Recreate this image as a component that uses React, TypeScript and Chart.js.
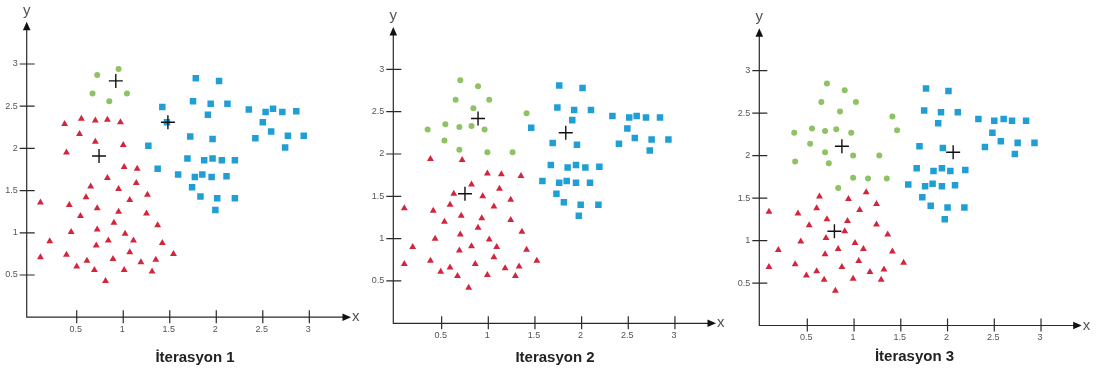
import React, { useEffect, useRef } from "react";
import { Chart, registerables } from "chart.js";

Chart.register(...registerables);

type Pt = [number, number];

// ---------- data ----------
const tickValues: number[] = [0.5, 1, 1.5, 2, 2.5, 3];
const tickLabels: string[] = ["0.5", "1", "1.5", "2", "2.5", "3"];
const panelTitles: string[] = ["İterasyon 1", "Iterasyon 2", "İterasyon 3"];

// Iteration 1
const green1: Pt[] = [[0.72, 2.87], [0.95, 2.94], [0.67, 2.65], [1.04, 2.65], [0.85, 2.56]];
const red1: Pt[] = [
  [0.37, 2.29], [0.55, 2.35], [0.70, 2.33], [0.83, 2.34], [0.97, 2.31],
  [0.53, 2.17], [0.70, 2.08], [1.00, 2.04], [0.39, 1.95],
  [1.01, 1.78], [1.15, 1.76], [0.83, 1.65], [0.65, 1.55], [1.14, 1.59], [0.95, 1.52], [1.26, 1.45],
  [0.11, 1.36], [0.42, 1.33], [0.60, 1.42], [0.72, 1.29], [1.07, 1.39],
  [0.54, 1.20], [0.95, 1.25], [1.25, 1.23], [0.90, 1.12], [1.37, 1.09],
  [0.44, 1.01], [0.72, 1.04], [1.02, 0.99], [0.21, 0.90], [0.84, 0.91], [1.11, 0.91], [0.71, 0.85], [1.42, 0.88],
  [1.07, 0.77], [0.11, 0.71], [0.39, 0.74], [0.61, 0.67], [0.89, 0.69], [1.35, 0.68], [1.54, 0.75],
  [0.50, 0.60], [0.69, 0.56], [1.01, 0.56], [1.19, 0.65], [1.31, 0.54], [0.81, 0.43],
];
const blue1: Pt[] = [
  [1.78, 2.83], [2.03, 2.80], [1.42, 2.49], [1.75, 2.56], [1.94, 2.53], [2.12, 2.53], [1.91, 2.40],
  [2.35, 2.46], [2.53, 2.43], [2.61, 2.47], [2.71, 2.43], [2.86, 2.44], [2.50, 2.31], [2.59, 2.20],
  [2.42, 2.12], [2.77, 2.15], [2.94, 2.15], [2.74, 2.01],
  [1.72, 2.14], [1.96, 2.11], [1.27, 2.03], [1.47, 2.31],
  [1.69, 1.88], [1.87, 1.86], [1.96, 1.88], [2.06, 1.86], [2.20, 1.86],
  [1.37, 1.76], [1.59, 1.69], [1.77, 1.66], [1.85, 1.69], [1.95, 1.66], [2.11, 1.67],
  [1.74, 1.54], [1.83, 1.43], [2.01, 1.41], [2.20, 1.41], [1.99, 1.27],
];
const centers1: Pt[] = [[0.92, 2.80], [0.74, 1.91], [1.48, 2.31]];

// Iteration 2
const green2: Pt[] = [
  [0.70, 2.87], [0.89, 2.80], [0.65, 2.64], [1.01, 2.64], [0.84, 2.54], [1.41, 2.48], [0.54, 2.35],
  [0.35, 2.29], [0.69, 2.32], [0.82, 2.33], [0.96, 2.29], [0.53, 2.16], [0.69, 2.05], [0.99, 2.02], [1.26, 2.02],
];
const red2: Pt[] = [
  [0.38, 1.94], [0.72, 1.93], [0.99, 1.77], [1.14, 1.76], [1.35, 1.74], [0.82, 1.64], [0.63, 1.53], [0.94, 1.50], [1.12, 1.59], [1.24, 1.46],
  [0.10, 1.36], [0.41, 1.33], [0.59, 1.40], [1.06, 1.38], [0.71, 1.27], [0.93, 1.24], [0.53, 1.20], [1.24, 1.22], [0.89, 1.13], [1.36, 1.08],
  [0.43, 1.00], [0.70, 1.05], [1.01, 0.99], [0.19, 0.90], [0.82, 0.91], [1.09, 0.90], [0.69, 0.86], [1.41, 0.87], [1.06, 0.78], [0.10, 0.70],
  [0.38, 0.74], [0.59, 0.66], [0.86, 0.70], [1.33, 0.67], [1.52, 0.74], [0.49, 0.61], [0.67, 0.56], [0.99, 0.57], [1.18, 0.65], [1.29, 0.56], [0.79, 0.42],
];
const blue2: Pt[] = [
  [1.76, 2.81], [2.01, 2.78], [1.74, 2.55], [1.92, 2.52], [2.10, 2.52], [1.90, 2.40], [1.46, 2.31],
  [2.33, 2.45], [2.51, 2.43], [2.59, 2.45], [2.69, 2.43], [2.84, 2.43], [2.49, 2.30], [2.57, 2.19],
  [2.40, 2.12], [2.75, 2.17], [2.93, 2.17], [2.73, 2.04],
  [1.69, 2.13], [1.95, 2.11], [1.67, 1.87], [1.85, 1.84], [1.94, 1.87], [2.04, 1.84], [2.19, 1.85],
  [1.58, 1.68], [1.76, 1.66], [1.84, 1.68], [1.94, 1.66], [2.09, 1.66], [1.73, 1.53], [1.81, 1.43], [1.99, 1.40], [2.18, 1.40], [1.97, 1.27],
];
const centers2: Pt[] = [[0.89, 2.42], [0.75, 1.53], [1.83, 2.25]];

// Iteration 3
const green3: Pt[] = [
  [0.71, 2.85], [0.90, 2.77], [0.65, 2.63], [1.02, 2.63], [0.85, 2.52], [1.41, 2.46], [0.55, 2.32], [0.36, 2.27],
  [0.69, 2.29], [0.81, 2.31], [0.97, 2.27], [1.46, 2.30], [0.53, 2.14], [0.69, 2.04], [0.99, 2.00], [1.27, 2.00],
  [0.37, 1.93], [0.73, 1.91], [0.99, 1.74], [1.15, 1.73], [1.35, 1.73], [0.83, 1.62],
];
const red3: Pt[] = [
  [0.63, 1.52], [0.94, 1.49], [1.13, 1.57], [1.24, 1.43], [0.09, 1.34], [0.40, 1.32], [0.60, 1.38], [1.06, 1.36], [0.71, 1.25], [0.93, 1.23],
  [0.52, 1.18], [1.24, 1.19], [0.90, 1.11], [1.36, 1.07], [0.43, 0.99], [0.70, 1.03], [1.01, 0.97], [0.19, 0.89], [0.83, 0.90], [1.10, 0.90],
  [0.69, 0.84], [1.41, 0.87], [1.05, 0.76], [0.09, 0.69], [0.37, 0.72], [0.60, 0.64], [0.87, 0.69], [1.32, 0.66], [1.53, 0.74], [0.49, 0.59],
  [0.68, 0.54], [0.99, 0.55], [1.17, 0.63], [1.29, 0.54], [0.80, 0.41],
];
const blue3: Pt[] = [
  [1.77, 2.79], [2.01, 2.76], [1.75, 2.53], [1.93, 2.51], [2.11, 2.51], [1.90, 2.38],
  [2.33, 2.43], [2.50, 2.41], [2.60, 2.43], [2.69, 2.41], [2.84, 2.41], [2.48, 2.27], [2.57, 2.17],
  [2.40, 2.10], [2.75, 2.15], [2.93, 2.15], [2.72, 2.02],
  [1.70, 2.11], [1.95, 2.09], [1.67, 1.85], [1.85, 1.82], [1.94, 1.85], [2.03, 1.82], [2.19, 1.83],
  [1.58, 1.66], [1.76, 1.64], [1.84, 1.67], [1.94, 1.64], [2.08, 1.65], [1.73, 1.51], [1.82, 1.41], [2.00, 1.39], [2.18, 1.39], [1.97, 1.25],
];
const centers3: Pt[] = [[0.87, 2.11], [0.79, 1.11], [2.06, 2.04]];

// ---------- layout / style ----------
const W = 1101;
const H = 369;
const FONT = "'Liberation Sans', Arial, Helvetica, sans-serif";
const AXIS_COLOR = "#2a2a2a";
const RED = "#d3263d";
const GREEN = "#8ec262";
const BLUE = "#1f9fd5";

const iterations = [
  { green: green1, red: red1, blue: blue1, centers: centers1 },
  { green: green2, red: red2, blue: blue2, centers: centers2 },
  { green: green3, red: red3, blue: blue3, centers: centers3 },
];

const panels = [
  { canvasLeft: 0, width: 365, area: { left: 26.7, right: 351, top: 21.8, bottom: 317.2 }, xMin: -0.0376, xMax: 3.448, titleX: 195, titleY: 361.5 },
  { canvasLeft: 365, width: 370, area: { left: 393.3, right: 716, top: 27.0, bottom: 323.3 }, xMin: -0.018, xMax: 3.44, titleX: 555, titleY: 362 },
  { canvasLeft: 735, width: 366, area: { left: 759.3, right: 1081.7, top: 28.2, bottom: 325.5 }, xMin: -0.0135, xMax: 3.435, titleX: 914.5, titleY: 361 },
];

const toXY = (pts: Pt[]) => pts.map(([x, y]) => ({ x, y }));

function makeAxesPlugin(title: string, titleX: number, titleY: number) {
  return {
    id: "kmeansAxes",
    beforeDatasetsDraw(chart: any) {
      const { ctx, chartArea: a, scales } = chart;
      const xs = scales.x;
      const ys = scales.y;
      const ax = a.left;
      const ay = a.bottom;
      ctx.save();
      ctx.strokeStyle = AXIS_COLOR;
      ctx.lineWidth = 1.2;
      ctx.beginPath();
      ctx.moveTo(ax, ay + 0.5);
      ctx.lineTo(ax, a.top + 6);
      ctx.moveTo(ax - 0.5, ay);
      ctx.lineTo(a.right - 6, ay);
      tickValues.forEach((v) => {
        const py = ys.getPixelForValue(v);
        ctx.moveTo(ax - 7, py);
        ctx.lineTo(ax + 8, py);
        const px = xs.getPixelForValue(v);
        ctx.moveTo(px, ay - 7);
        ctx.lineTo(px, ay + 6);
      });
      ctx.stroke();

      ctx.fillStyle = "#111";
      ctx.beginPath();
      ctx.moveTo(ax, a.top);
      ctx.lineTo(ax - 3.8, a.top + 8.5);
      ctx.lineTo(ax + 3.8, a.top + 8.5);
      ctx.closePath();
      ctx.fill();
      ctx.beginPath();
      ctx.moveTo(a.right, ay);
      ctx.lineTo(a.right - 8.5, ay - 3.8);
      ctx.lineTo(a.right - 8.5, ay + 3.8);
      ctx.closePath();
      ctx.fill();

      // tick labels
      ctx.fillStyle = "#555";
      ctx.font = `9px ${FONT}`;
      ctx.textBaseline = "middle";
      ctx.textAlign = "right";
      tickValues.forEach((v, i) => {
        ctx.fillText(tickLabels[i], ax - 9, ys.getPixelForValue(v));
      });
      ctx.textAlign = "center";
      tickValues.forEach((v, i) => {
        ctx.fillText(tickLabels[i], xs.getPixelForValue(v) - 1, ay + 12.5);
      });

      // axis letters
      ctx.fillStyle = "#555";
      ctx.font = `15px ${FONT}`;
      ctx.textAlign = "center";
      ctx.textBaseline = "alphabetic";
      ctx.fillText("y", ax, a.top - 7);
      ctx.textAlign = "left";
      ctx.textBaseline = "middle";
      ctx.fillText("x", a.right + 1, ay);

      // title
      ctx.fillStyle = "#222";
      ctx.font = `bold 15px ${FONT}`;
      ctx.textAlign = "center";
      ctx.textBaseline = "alphabetic";
      ctx.fillText(title, titleX, titleY);
      ctx.restore();
    },
  };
}

function Panel({ index }: { index: number }) {
  const ref = useRef<HTMLCanvasElement>(null);
  const cfg = panels[index];
  useEffect(() => {
    const it = iterations[index];
    const chart = new Chart(ref.current as HTMLCanvasElement, {
      type: "scatter",
      data: {
        datasets: [
          {
            label: "Merkez",
            data: toXY(it.centers),
            pointStyle: "cross",
            pointRadius: 7,
            pointBorderWidth: 1.4,
            borderColor: "#111",
            backgroundColor: "#111",
          },
          {
            label: "Küme 1",
            data: toXY(it.green),
            pointStyle: "circle",
            pointRadius: 3,
            pointBorderWidth: 0,
            backgroundColor: GREEN,
            borderColor: GREEN,
          },
          {
            label: "Küme 2",
            data: toXY(it.red),
            pointStyle: "triangle",
            pointRadius: 4,
            pointBorderWidth: 0,
            backgroundColor: RED,
            borderColor: RED,
          },
          {
            label: "Küme 3",
            data: toXY(it.blue),
            pointStyle: "rect",
            pointRadius: 4.6,
            pointBorderWidth: 0,
            backgroundColor: BLUE,
            borderColor: BLUE,
          },
        ],
      } as any,
      options: {
        responsive: false,
        animation: false,
        events: [],
        layout: {
          padding: {
            left: cfg.area.left - cfg.canvasLeft,
            right: cfg.canvasLeft + cfg.width - cfg.area.right,
            top: cfg.area.top,
            bottom: H - cfg.area.bottom,
          },
        },
        plugins: {
          legend: { display: false },
          tooltip: { enabled: false },
          title: { display: false },
        },
        scales: {
          x: { type: "linear", min: cfg.xMin, max: cfg.xMax, display: false },
          y: { type: "linear", min: 0, max: 3.5, display: false },
        },
      } as any,
      plugins: [makeAxesPlugin(panelTitles[index], cfg.titleX - cfg.canvasLeft, cfg.titleY)],
    });
    return () => chart.destroy();
  }, [index]);
  return (
    <canvas
      ref={ref}
      width={cfg.width}
      height={H}
      style={{ position: "absolute", left: cfg.canvasLeft, top: 0, width: cfg.width, height: H }}
    />
  );
}

export default function App() {
  return (
    <div style={{ position: "absolute", left: 0, top: 0, width: W, height: H, background: "#ffffff", overflow: "hidden" }}>
      <Panel index={0} />
      <Panel index={1} />
      <Panel index={2} />
    </div>
  );
}
